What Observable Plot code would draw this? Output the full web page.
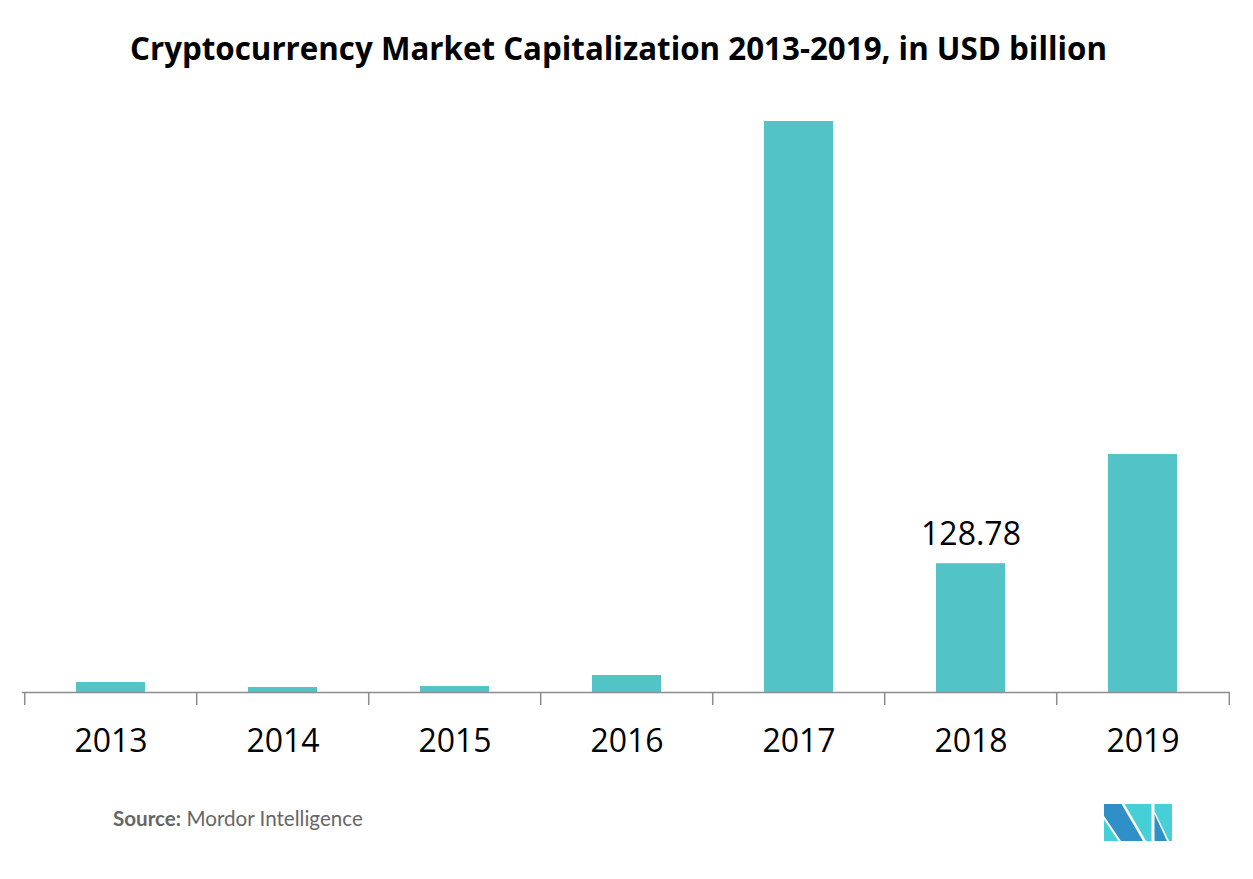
<!DOCTYPE html>
<html>
<head>
<meta charset="utf-8">
<script src="https://cdn.jsdelivr.net/npm/d3@7"></script>
<script src="https://cdn.jsdelivr.net/npm/@observablehq/plot@0.6"></script>
<style>
  html, body { margin: 0; padding: 0; background: #fff; }
  #wrap { position: relative; width: 1253px; height: 879px; overflow: hidden; }
  #title { position: absolute; left: 0; top: 0; width: 1253px; height: 90px; }
  #title span { position: absolute; left: 130px; top: 33px; font-family: "Open Sans", sans-serif; font-weight: 700; color: #000; white-space: nowrap; line-height: 1; }
  #chart { position: absolute; left: 0; top: 90px; }
  #source { position: absolute; left: 113px; top: 806px; font-family: Lato, "Open Sans", sans-serif; font-size: 20.6px; color: #666; white-space: nowrap; }
  #source b { font-weight: 700; color: #666; }
  #logo { position: absolute; left: 1104px; top: 804px; }
</style>
</head>
<body>
<div id="wrap">
  <div id="title"><span id="titleText">Cryptocurrency Market Capitalization 2013-2019, in USD billion</span></div>
  <div id="chart"></div>
  <div id="source"><b>Source:</b> Mordor Intelligence</div>
  <svg id="logo" width="69" height="38" viewBox="0 0 69 38">
    <polygon points="0,0 17.5,0 39,37 17,37 0,12" fill="#2f8fc7"/>
    <polygon points="0,15.5 0,37 14.5,37" fill="#46cfd6"/>
    <polygon points="20.5,0 47.5,0 47.5,37 42,37" fill="#46cfd6"/>
    <polygon points="50.5,0 68,0 68,37 65,37 50.5,7" fill="#46cfd6"/>
    <polygon points="50.5,10 63,37 50.5,37" fill="#2f8fc7"/>
  </svg>
</div>
<script>
// Data
const years = ["2013", "2014", "2015", "2016", "2017", "2018", "2019"];
const marketCap = [10, 5, 6, 17, 571, 128.78, 238];
const labelYears = ["2018"];
const labelTexts = ["128.78"];

const data = years.map((y, i) => ({year: y, value: marketCap[i]}));
const labels = labelYears.map((y, i) => ({year: y, value: marketCap[years.indexOf(y)], text: labelTexts[i]}));

// fit title width
(function fitTitle() {
  const el = document.getElementById("titleText");
  const c = document.createElement("canvas").getContext("2d");
  c.font = '700 100px "Open Sans"';
  const w = c.measureText(el.textContent).width;
  el.style.fontSize = (100 * 977 / w).toFixed(2) + "px";
})();

const W = 1253, H = 700;
const mL = 22, mR = 23, mB = 98;
const step = (W - mL - mR) / years.length;

const chart = Plot.plot({
  width: W,
  height: H,
  marginLeft: mL,
  marginRight: mR,
  marginTop: 2,
  marginBottom: mB,
  style: {fontFamily: '"Open Sans", sans-serif', background: "transparent", overflow: "visible"},
  x: {domain: years, paddingInner: 0.6, paddingOuter: 0.3, align: 0.5, label: null},
  y: {domain: [0, 600], axis: null},
  marks: [
    Plot.barY(data, {x: "year", y: "value", fill: "#52c3c7"}),
    Plot.ruleY([0], {stroke: "#8c8c8c", strokeWidth: 1.5}),
    Plot.ruleX(years, {x: d => d, y1: 0, y2: -13, dx: -step / 2, stroke: "#8c8c8c", strokeWidth: 1.5}),
    Plot.ruleX([years[years.length - 1]], {x: d => d, y1: 0, y2: -13, dx: step / 2, stroke: "#8c8c8c", strokeWidth: 1.5}),
    Plot.axisX({tickSize: 0, tickPadding: 37, fontSize: 32, fill: "#000", label: null}),
    Plot.text(labels, {x: "year", y: "value", text: "text", fontSize: 32, fill: "#000", lineAnchor: "bottom", dy: -19})
  ]
});
document.getElementById("chart").appendChild(chart);
</script>
</body>
</html>
